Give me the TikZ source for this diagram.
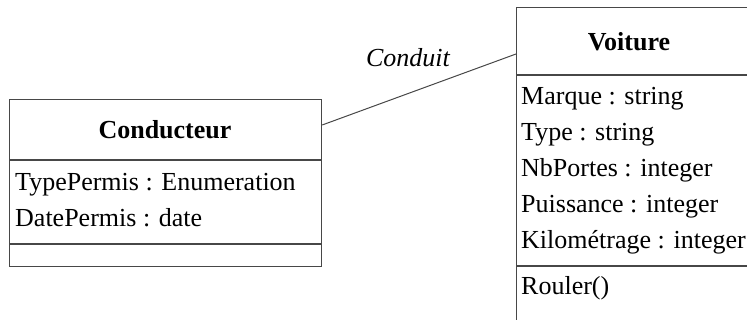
\documentclass[tikz,border=0pt]{standalone}
\usepackage{fontspec}
\setmainfont{Liberation Serif}
\begin{document}
\begin{tikzpicture}[x=1pt,y=-1pt,
  frame/.style={draw=black!72,line width=1.2pt},
  classbox/.style={frame,anchor=north west,inner sep=0pt},
  attr/.style={anchor=base west,inner sep=0pt,font=\fontsize{26}{30}\selectfont},
  title/.style={anchor=base,inner sep=0pt,font=\fontsize{26}{30}\selectfont\bfseries},
  role/.style={anchor=base,inner sep=0pt,font=\fontsize{26}{30}\selectfont\itshape},
  link/.style={draw=black!72,line width=1pt},
]
\useasboundingbox (0,0) rectangle (747,320);
\clip (0,0) rectangle (747,320);

% class Conducteur
\node[classbox,minimum width=312pt,minimum height=167pt] (cond) at (9,99) {};
\draw[frame] (cond.west |- 0,160) -- (cond.east |- 0,160);
\draw[frame] (cond.west |- 0,244) -- (cond.east |- 0,244);
\node[title] (condname) at (165,139) {Conducteur};
\node[attr] (ctype) at (15,191) {TypePermis : Enumeration};
\node[attr] (cdate) at (15,227) {DatePermis : date};

% class Voiture (extends past the right and bottom edges)
\node[classbox,minimum width=250pt,minimum height=330pt] (voit) at (516,7) {};
\draw[frame] (voit.west |- 0,75) -- (voit.east |- 0,75);
\draw[frame] (voit.west |- 0,266) -- (voit.east |- 0,266);
\node[title] (voitname) at (629,51) {Voiture};
\node[attr] (vmarque) at (521,105) {Marque : string};
\node[attr] (vtype) at (521,141) {Type : string};
\node[attr] (vportes) at (521,177) {NbPortes : integer};
\node[attr] (vpuiss) at (521,213) {Puissance : integer};
\node[attr] (vkm) at (521,249) {Kilométrage : integer};
\node[attr] (vrouler) at (521,295) {Rouler()};

% association
\coordinate (ca) at (cond.east |- 0,125);
\coordinate (va) at (voit.west |- 0,54);
\draw[link] (ca) -- (va);
\node[role] (conduit) at (408,67) {Conduit};
\end{tikzpicture}
\end{document}
